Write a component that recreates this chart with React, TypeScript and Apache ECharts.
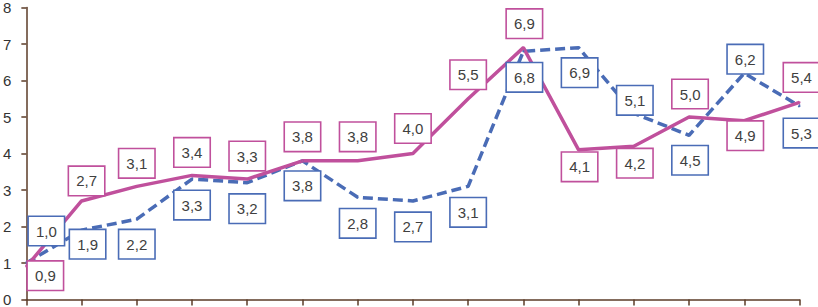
import React, { useEffect, useRef } from "react";
import * as echarts from "echarts";

const categories = ["1", "2", "3", "4", "5", "6", "7", "8", "9", "10", "11", "12", "13", "14", "15"];
const pinkValues = [0.9, 2.7, 3.1, 3.4, 3.3, 3.8, 3.8, 4.0, 5.5, 6.9, 4.1, 4.2, 5.0, 4.9, 5.4];
const blueValues = [1.0, 1.9, 2.2, 3.3, 3.2, 3.8, 2.8, 2.7, 3.1, 6.8, 6.9, 5.1, 4.5, 6.2, 5.3];
const yTicks = [0, 1, 2, 3, 4, 5, 6, 7, 8];

// label placement (layout only): offset of each label's centre from its point
const pinkLabelOffsets = [
  [19, 9], [5, -20], [0, -23], [0, -23], [0, -23], [0, -24], [0, -24], [0, -25],
  [0, -24], [1, -24], [1, 17], [1, 17], [1, -23], [1, 15], [2, -25],
];
const blueLabelOffsets = [
  [20, -32], [6, 14], [0, 25], [0, 26], [0, 26], [0, 25], [0, 26], [0, 26],
  [0, 26], [1, 26], [1, 25], [1, -13], [1, 25], [1, -14], [2, 27],
];

const PINK = "#C0509C";
const BLUE = "#4A6CB6";
const AXIS = "#5B3B27";

const fmt = (v: number) => v.toFixed(1).replace(".", ",");

function labelStyle(color: string) {
  return {
    show: true,
    position: "inside",
    formatter: (p: any) => fmt(p.value),
    fontFamily: "Liberation Sans",
    fontSize: 15,
    color: "#404040",
    backgroundColor: "#ffffff",
    borderColor: color,
    borderWidth: 1.6,
    padding: [6, 7, 5, 7],
    lineHeight: 17,
  };
}

export default function App() {
  const ref = useRef<HTMLDivElement>(null);
  useEffect(() => {
    document.body.style.margin = "0";
    const chart = echarts.init(ref.current!, null, { renderer: "svg" });
    const mk = (vals: number[], offs: number[][]) =>
      vals.map((v, i) => ({ value: v, label: { offset: offs[i] } }));
    chart.setOption({
      animation: false,
      backgroundColor: "#ffffff",
      grid: { left: 23.5, right: 18.5, top: 5, bottom: 7, containLabel: false },
      xAxis: {
        type: "category",
        data: categories,
        boundaryGap: false,
        axisLine: { lineStyle: { color: AXIS, width: 1.5 } },
        axisTick: { show: true, length: 6, lineStyle: { color: AXIS, width: 1.5 } },
        axisLabel: { show: false },
        splitLine: { show: false },
      },
      yAxis: {
        type: "value",
        min: yTicks[0],
        max: yTicks[yTicks.length - 1],
        interval: 1,
        axisLine: { show: true, lineStyle: { color: AXIS, width: 1.5 } },
        axisTick: { show: true, length: 5, lineStyle: { color: AXIS, width: 1.5 } },
        axisLabel: {
          margin: 15,
          fontFamily: "Liberation Sans",
          fontSize: 15,
          color: "#333333",
        },
        splitLine: { show: false },
      },
      series: [
        {
          type: "line",
          data: mk(blueValues, blueLabelOffsets),
          symbol: "circle",
          symbolSize: 2,
          showSymbol: true,
          showAllSymbol: true,
          itemStyle: { color: BLUE },
          lineStyle: { color: BLUE, width: 3.5, type: [10, 5] },
          label: labelStyle(BLUE),
          z: 2,
        },
        {
          type: "line",
          data: mk(pinkValues, pinkLabelOffsets),
          symbol: "circle",
          symbolSize: 2,
          showSymbol: true,
          showAllSymbol: true,
          itemStyle: { color: PINK },
          lineStyle: { color: PINK, width: 3.5 },
          label: labelStyle(PINK),
          z: 2,
        },
      ],
    });
    return () => chart.dispose();
  }, []);
  return <div ref={ref} style={{ width: 818, height: 307 }} />;
}
